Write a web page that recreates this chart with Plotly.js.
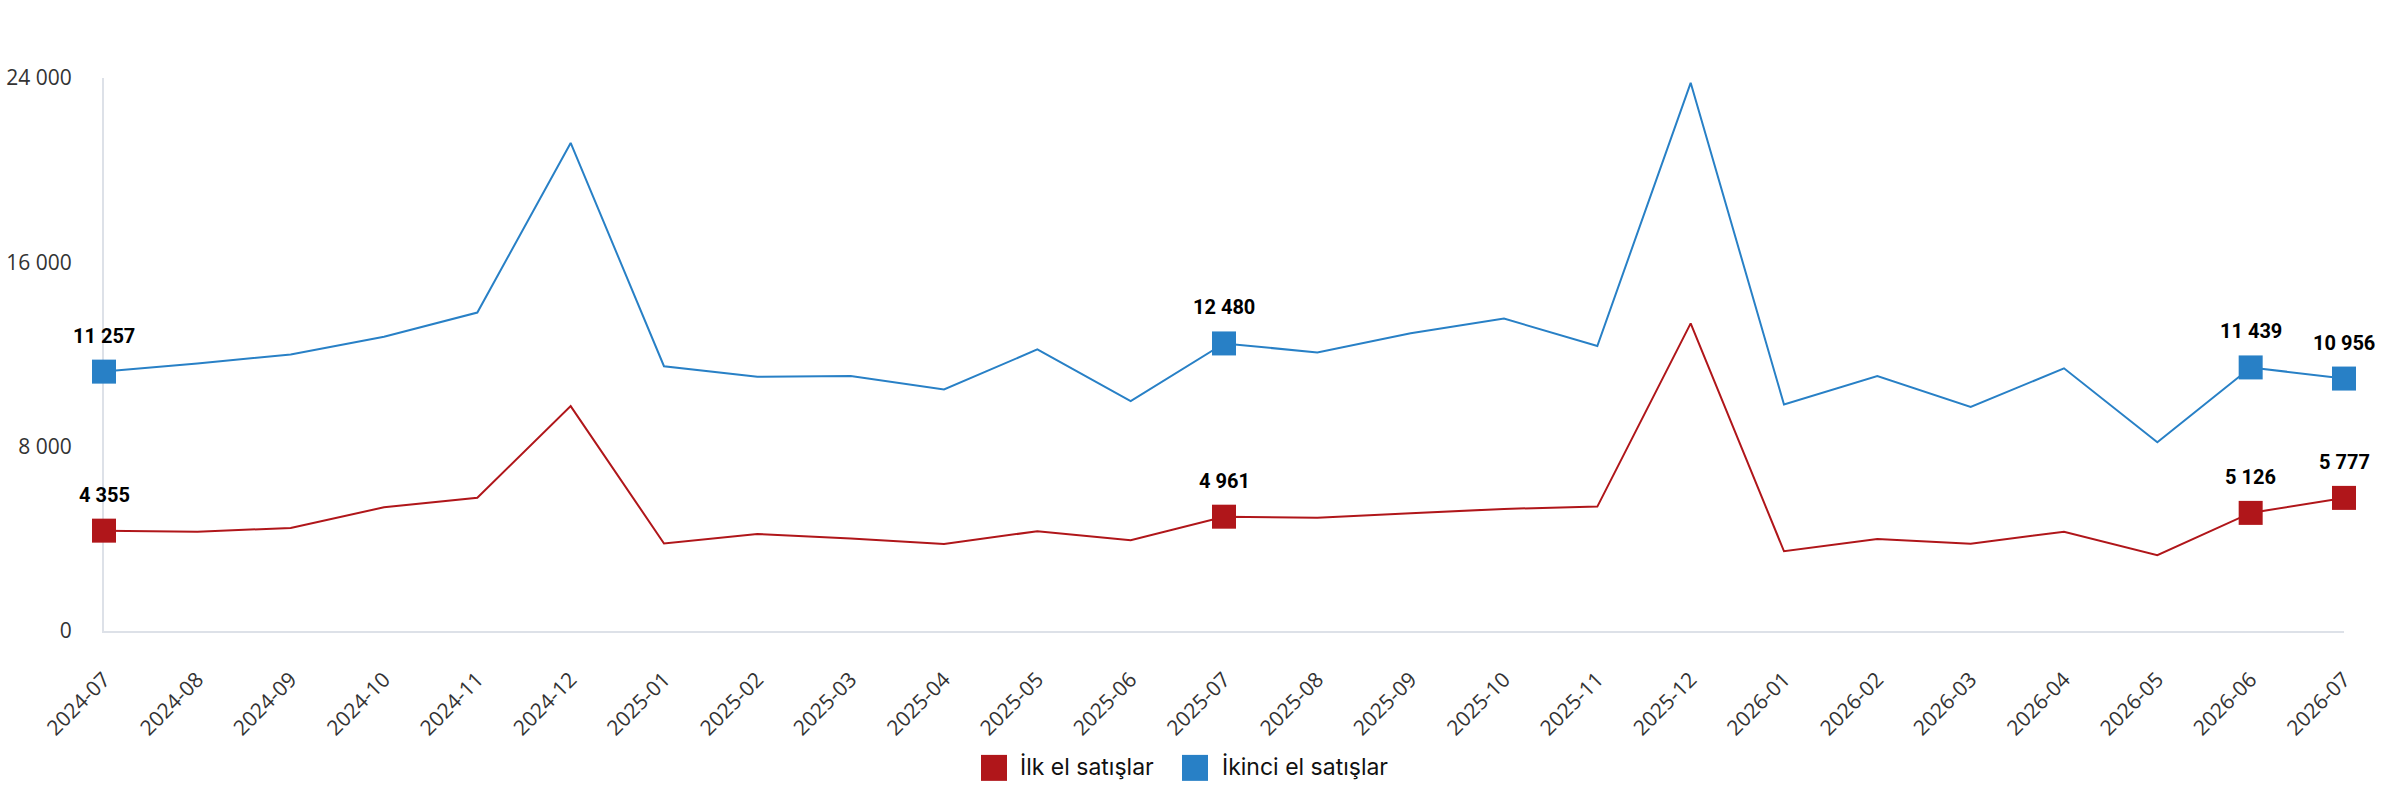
<!DOCTYPE html>
<html>
<head>
<meta charset="utf-8">
<script src="https://cdn.plot.ly/plotly-3.0.1.min.js"></script>
<style>
  html, body { margin: 0; padding: 0; background: #ffffff; }
  #chart { width: 2384px; height: 800px; }
</style>
</head>
<body>
<div id="chart"></div>
<script>
const months = ['2024-07','2024-08','2024-09','2024-10','2024-11','2024-12',
  '2025-01','2025-02','2025-03','2025-04','2025-05','2025-06','2025-07','2025-08',
  '2025-09','2025-10','2025-11','2025-12','2026-01','2026-02','2026-03','2026-04',
  '2026-05','2026-06','2026-07'];
const ilkEl = [4355,4310,4470,5370,5780,9760,3800,4210,4010,3780,4330,3940,4961,
  4920,5110,5300,5400,13350,3460,3990,3790,4310,3290,5126,5777];
const ikinciEl = [11257,11610,12000,12770,13820,21180,11490,11030,11070,10480,12220,
  9980,12480,12090,12920,13560,12370,23790,9830,11070,9720,11400,8190,11439,10956];
const highlightIdx = [0,12,23,24];
const seriesNames = ['İlk el satışlar','İkinci el satışlar'];
const yTicks = [0,8000,16000,24000];

const RED = '#b0161a';
const BLUE = '#2880c6';

function fmt(n){ return String(n).replace(/\B(?=(\d{3})+(?!\d))/g,' '); }

const series = [
  {name: seriesNames[0], values: ilkEl, color: RED},
  {name: seriesNames[1], values: ikinciEl, color: BLUE}
];

const traces = [];
const annotations = [];
series.forEach(s => {
  traces.push({
    type: 'scatter', mode: 'lines', x: months, y: s.values,
    line: {color: s.color, width: 2}, showlegend: false, hoverinfo: 'skip'
  });
  traces.push({
    type: 'scatter', mode: 'markers',
    x: highlightIdx.map(i => months[i]), y: highlightIdx.map(i => s.values[i]),
    marker: {symbol: 'square', size: 24, color: s.color},
    cliponaxis: false, showlegend: false, hoverinfo: 'skip'
  });
  highlightIdx.forEach(i => {
    annotations.push({
      x: months[i], y: s.values[i], xref: 'x', yref: 'y',
      text: fmt(s.values[i]), showarrow: false, yshift: 36,
      font: {family: 'Roboto, sans-serif', size: 20, color: '#000', weight: 'bold'}
    });
  });
});

// custom legend (square swatches + labels), paper coords
const L = 104, R = 2344, T = 77.5, B = 631;
const px = v => (v - L) / (R - L);
const py = v => (B - v) / (B - T);
const shapes = [];
const legendItems = [
  {x0: 981, tx: 1018, s: series[0]},
  {x0: 1182, tx: 1220, s: series[1]}
];
legendItems.forEach(it => {
  shapes.push({type: 'rect', xref: 'paper', yref: 'paper',
    x0: px(it.x0), x1: px(it.x0 + 26), y0: py(781), y1: py(755),
    fillcolor: it.s.color, line: {width: 0}});
  annotations.push({xref: 'paper', yref: 'paper', x: px(it.tx), y: py(767),
    xanchor: 'left', yanchor: 'middle', showarrow: false, text: it.s.name,
    font: {family: 'Inter, "Noto Sans", sans-serif', size: 23, color: '#111'}});
});

const layout = {
  width: 2384, height: 800,
  paper_bgcolor: '#ffffff', plot_bgcolor: '#ffffff',
  margin: {l: L, r: 2384 - R, t: T, b: 800 - B, pad: 0},
  separators: '. ',
  showlegend: false,
  hovermode: false,
  xaxis: {
    type: 'category', range: [0, months.length - 1],
    showline: true, linecolor: '#dde1e8', linewidth: 2, layer: 'below traces',
    showgrid: false, zeroline: false, ticks: '',
    tickangle: -45, ticklabelstandoff: 26,
    tickfont: {family: '"Open Sans", sans-serif', size: 21, color: '#333'}
  },
  yaxis: {
    range: [0, 24000], tickvals: yTicks, ticktext: yTicks.map(fmt),
    showline: true, linecolor: '#dde1e8', linewidth: 2, layer: 'below traces',
    showgrid: false, zeroline: false, ticks: '',
    ticklabelstandoff: 26,
    tickfont: {family: '"Open Sans", sans-serif', size: 21, color: '#333'}
  },
  shapes: shapes,
  annotations: annotations
};

Plotly.newPlot('chart', traces, layout, {displayModeBar: false, staticPlot: true});
</script>
</body>
</html>
